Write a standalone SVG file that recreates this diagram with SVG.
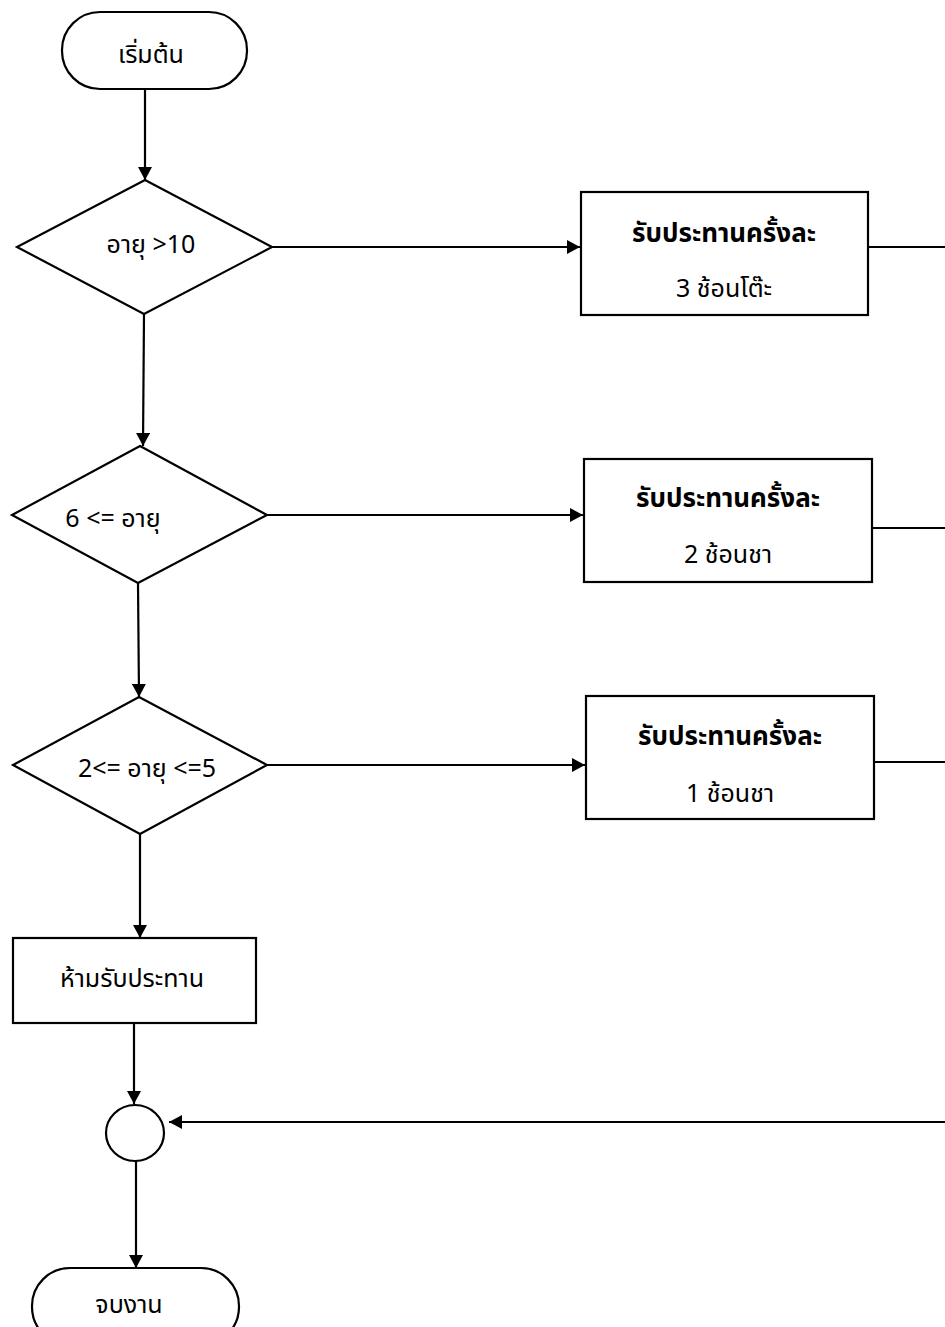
<svg xmlns="http://www.w3.org/2000/svg" width="945" height="1327" viewBox="0 0 945 1327">
<defs>
<marker id="arr" viewBox="0 0 13 14" refX="13" refY="7" markerWidth="13" markerHeight="14" markerUnits="userSpaceOnUse" orient="auto">
<path d="M0,0 L13,7 L0,14 Z" fill="#000"/>
</marker>
<style>
.shape{fill:#fff;stroke:#000;stroke-width:2.2}
.conn{fill:none;stroke:#000;stroke-width:2.2}
text{font-family:"Noto Sans Thai","Noto Sans","DejaVu Sans",sans-serif;font-size:25px;fill:#000;text-anchor:middle}
.b{font-weight:bold;font-size:26px}
</style>
</defs>
<rect width="945" height="1327" fill="#fff"/>
<g id="connectors">
<path class="conn" d="M145,89 L145,180" marker-end="url(#arr)"/>
<path class="conn" d="M272,247 L580,247" marker-end="url(#arr)"/>
<path class="conn" d="M868,247 L945,247"/>
<path class="conn" d="M144,314 L143,446" marker-end="url(#arr)"/>
<path class="conn" d="M267,515 L583,515" marker-end="url(#arr)"/>
<path class="conn" d="M872,528 L945,528"/>
<path class="conn" d="M138,583 L139,697" marker-end="url(#arr)"/>
<path class="conn" d="M267,765 L585,765" marker-end="url(#arr)"/>
<path class="conn" d="M874,762 L945,762"/>
<path class="conn" d="M140,834 L140,938" marker-end="url(#arr)"/>
<path class="conn" d="M134,1023 L134,1104" marker-end="url(#arr)"/>
<path class="conn" d="M945,1122 L169,1122" marker-end="url(#arr)"/>
<path class="conn" d="M136,1161 L136,1268" marker-end="url(#arr)"/>
</g>
<g id="start">
<rect class="shape" x="62" y="12" width="185" height="77" rx="38" ry="38"/>
<text x="151" y="63">เริ่มต้น</text>
</g>
<g id="d1">
<polygon class="shape" points="145,180 272,247 144,314 17,247"/>
<text x="151" y="253">อายุ &gt;10</text>
</g>
<g id="box1">
<rect class="shape" x="581" y="192" width="287" height="123"/>
<text class="b" x="724" y="242">รับประทานครั้งละ</text>
<text x="724" y="297">3 ช้อนโต๊ะ</text>
</g>
<g id="d2">
<polygon class="shape" points="140,446 267,515 138,583 12,515"/>
<text x="113" y="527">6 &lt;= อายุ</text>
</g>
<g id="box2">
<rect class="shape" x="584" y="459" width="288" height="123"/>
<text class="b" x="728" y="507">รับประทานครั้งละ</text>
<text x="728" y="563">2 ช้อนชา</text>
</g>
<g id="d3">
<polygon class="shape" points="139,697 267,765 140,834 13,765"/>
<text x="147" y="777">2&lt;= อายุ &lt;=5</text>
</g>
<g id="box3">
<rect class="shape" x="586" y="696" width="288" height="123"/>
<text class="b" x="730" y="745">รับประทานครั้งละ</text>
<text x="730" y="802">1 ช้อนชา</text>
</g>
<g id="box4">
<rect class="shape" x="13" y="938" width="243" height="85"/>
<text x="132" y="987">ห้ามรับประทาน</text>
</g>
<g id="merge">
<ellipse class="shape" cx="135" cy="1133" rx="29" ry="28"/>
</g>
<g id="end">
<rect class="shape" x="32" y="1268" width="207" height="77" rx="38" ry="38"/>
<text x="129" y="1313">จบงาน</text>
</g>
</svg>
